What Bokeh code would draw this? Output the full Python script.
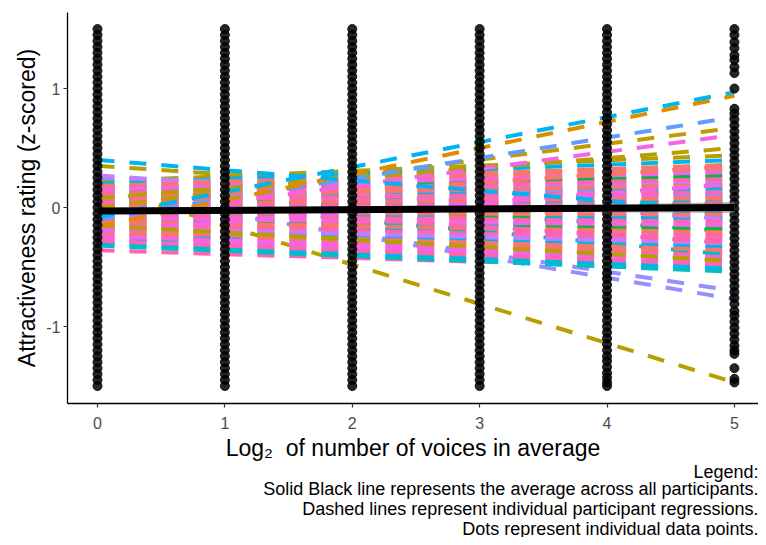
from bokeh.plotting import figure
from bokeh.models import Range1d, FixedTicker, Title, ColumnDataSource
from bokeh.embed import file_html
from bokeh.resources import INLINE

# ---------------- data ----------------
voices_log2 = [0, 1, 2, 3, 4, 5]

# individual ratings (z-scored); x = 0, 1, 2, 3 columns are fully filled
ratings_full = [1.50, 1.45, 1.40, 1.35, 1.30, 1.25, 1.20, 1.15, 1.10, 1.05,
                1.00, 0.95, 0.90, 0.85, 0.80, 0.75, 0.70, 0.65, 0.60, 0.55,
                0.50, 0.45, 0.40, 0.35, 0.30, 0.25, 0.20, 0.15, 0.10, 0.05,
                0.00, -0.05, -0.10, -0.15, -0.20, -0.25, -0.30, -0.35, -0.40,
                -0.45, -0.50, -0.55, -0.60, -0.65, -0.70, -0.75, -0.80, -0.85,
                -0.90, -0.95, -1.00, -1.05, -1.10, -1.15, -1.20, -1.25, -1.30,
                -1.35, -1.40, -1.45, -1.50]
ratings_x4 = [1.50, 1.45, 1.40, 1.35, 1.30, 1.25, 1.20, 1.15, 1.10, 1.05,
              1.00, 0.95, 0.90, 0.85, 0.80, 0.75, 0.70, 0.65, 0.60, 0.55,
              0.50, 0.45, 0.40, 0.35, 0.30, 0.25, 0.20, 0.15, 0.10, 0.05,
              0.00, -0.05, -0.10, -0.15, -0.20, -0.25, -0.30, -0.35, -0.40,
              -0.45, -0.50, -0.55, -0.60, -0.65, -0.70, -0.75, -0.80, -0.85,
              -0.90, -0.95, -1.00, -1.05, -1.10, -1.15, -1.20, -1.25, -1.29,
              -1.34, -1.39, -1.43, -1.47, -1.50]
ratings_x5 = [1.50, 1.45, 1.39, 1.34, 1.28, 1.24, 1.18, 1.13, 1.00,
              0.83, 0.79, 0.74, 0.69, 0.64, 0.59, 0.54, 0.49, 0.44, 0.39,
              0.34, 0.29, 0.24, 0.19, 0.14, 0.09, 0.04, -0.01, -0.06, -0.11,
              -0.16, -0.21, -0.26, -0.31, -0.36, -0.41, -0.46, -0.51, -0.56,
              -0.61, -0.66, -0.71, -0.76, -0.81, -0.87, -0.91, -0.96, -1.01,
              -1.06, -1.11, -1.16, -1.20, -1.23, -1.35, -1.44, -1.47]

# participant regression lines: fitted value at x = 0 and at x = 5
participant_start = [0.13, 0.10, 0.18, 0.35, -0.36,
                     0.22, 0.20, 0.16, 0.13, 0.10, 0.08, 0.05, 0.02,
                     -0.06, -0.10, -0.13, -0.18, -0.22, -0.26, -0.30, -0.32,
                     0.25, 0.19, -0.25, 0.14, -0.30, 0.27, 0.10,
                     0.18, 0.15, 0.12, 0.09, 0.06, 0.03, 0.01, -0.01,
                     -0.04, -0.07, -0.09, -0.12, -0.15, -0.17, -0.20, -0.24,
                     -0.28, 0.05, -0.20, 0.00, -0.15,
                     0.08, 0.00, -0.10, -0.10, -0.16, -0.08, 0.40]
participant_end = [-0.77, -0.70, -1.47, 0.00, -0.52,
                   0.44, 0.40, 0.33, 0.27, 0.21, 0.16, 0.11, 0.05,
                   -0.09, -0.18, -0.24, -0.33, -0.39, -0.45, -0.51, -0.54,
                   0.10, -0.05, 0.05, -0.20, -0.05, -0.10, -0.40,
                   0.36, 0.30, 0.24, 0.19, 0.13, 0.08, 0.03, 0.00,
                   -0.06, -0.12, -0.15, -0.21, -0.27, -0.30, -0.36, -0.42,
                   -0.48, -0.30, 0.20, 0.35, -0.45,
                   0.50, 0.67, 0.61, 0.76, 0.94, 0.97, -0.03]

SAL, OLV, ORG, GRN, TEA, BLU = "#F8766D", "#B79F00", "#DE8C00", "#00BA38", "#00BFC4", "#00B4F0"
PER, LIL, PUR, MAG, PNK, GLD = "#619CFF", "#9590FF", "#C77CFF", "#F564E3", "#FF64B0", "#C49A00"
participant_color = [LIL, LIL, OLV, OLV, PNK,
                     OLV, BLU, SAL, GRN, PUR, BLU, MAG, TEA,
                     BLU, GRN, PNK, BLU, SAL, MAG, BLU, TEA,
                     LIL, BLU, SAL, GRN, BLU, PUR, TEA,
                     SAL, MAG, PNK, SAL, PNK, SAL, PNK, PUR,
                     SAL, PNK, MAG, SAL, PNK, PUR, SAL, MAG,
                     PNK, PNK, MAG, SAL, OLV,
                     OLV, GLD, MAG, PER, ORG, BLU, BLU]

# average regression across participants with its confidence band
avg_x = [0, 5]
avg_y = [-0.03, 0.0]
band_x = [0, 1, 2, 3, 4, 5]
band_lower = [-0.058, -0.044, -0.033, -0.029, -0.040, -0.046]
band_upper = [-0.002, -0.004, -0.003, 0.011, 0.024, 0.046]

tick_labels_y = {-1: "-1", 0: "0", 1: "1"}
legend_lines = ["Legend:",
                "Solid Black line represents the average across all participants.",
                "Dashed lines represent individual participant regressions.",
                "Dots represent individual data points."]

# ---------------- figure ----------------
FONT = "Liberation Sans"
p = figure(width=758, height=537, output_backend="svg", toolbar_location=None,
           x_range=Range1d(-0.2355, 5.189), y_range=Range1d(-1.647, 1.639),
           min_border_left=67, min_border_right=0, min_border_top=12,
           min_border_bottom=134)
p.xgrid.visible = False
p.ygrid.visible = False
p.outline_line_color = None
p.background_fill_color = "white"
p.border_fill_color = "white"

line_src = ColumnDataSource(dict(
    xs=[[voices_log2[0], voices_log2[-1]] for _ in participant_start],
    ys=[[s, e] for s, e in zip(participant_start, participant_end)],
    color=participant_color))
p.multi_line(xs="xs", ys="ys", source=line_src, line_color="color",
             line_width=4, line_dash="17 15")

pt_x, pt_y = [], []
for xv in voices_log2[:4]:
    pt_x += [xv] * len(ratings_full)
    pt_y += ratings_full
pt_x += [voices_log2[4]] * len(ratings_x4)
pt_y += ratings_x4
pt_x += [voices_log2[5]] * len(ratings_x5)
pt_y += ratings_x5
p.scatter(pt_x, pt_y, size=9, fill_color="black", fill_alpha=0.85,
          line_color="black", line_alpha=0.85, line_width=1)

p.varea(x=band_x, y1=band_lower, y2=band_upper, fill_color="#808080", fill_alpha=0.6)
p.line(avg_x, avg_y, line_color="black", line_width=7)

for ax in (p.xaxis, p.yaxis):
    ax.axis_line_color = "black"
    ax.axis_line_width = 1.3
    ax.major_tick_line_color = "#333333"
    ax.major_tick_line_width = 1.2
    ax.major_tick_out = 4
    ax.major_tick_in = 0
    ax.minor_tick_line_color = None
    ax.major_label_text_color = "#4D4D4D"
    ax.major_label_text_font = FONT
    ax.major_label_text_font_size = "16px"
    ax.axis_label_text_font = FONT
    ax.axis_label_text_font_size = "23px"
    ax.axis_label_text_font_style = "normal"
    ax.axis_label_text_color = "black"

p.xaxis.ticker = FixedTicker(ticks=voices_log2)
p.xaxis.major_label_standoff = 9
p.xaxis.axis_label = "Log\u2082\u00a0 of number of voices in average"
p.xaxis.axis_label_standoff = 3
p.yaxis.ticker = FixedTicker(ticks=[-1, 0, 1])
p.yaxis.major_label_overrides = tick_labels_y
p.yaxis.major_label_standoff = 3
p.yaxis.axis_label = "Attractiveness rating (z-scored)"
p.yaxis.axis_label_standoff = 3

for i, txt in enumerate(legend_lines):
    p.add_layout(Title(text=txt, align="right", text_font=FONT,
                       text_font_size="18px", text_font_style="normal",
                       text_color="black", standoff=(-8 if i == 0 else -2)), "below")

open("out.html", "w").write(file_html(p, INLINE))
